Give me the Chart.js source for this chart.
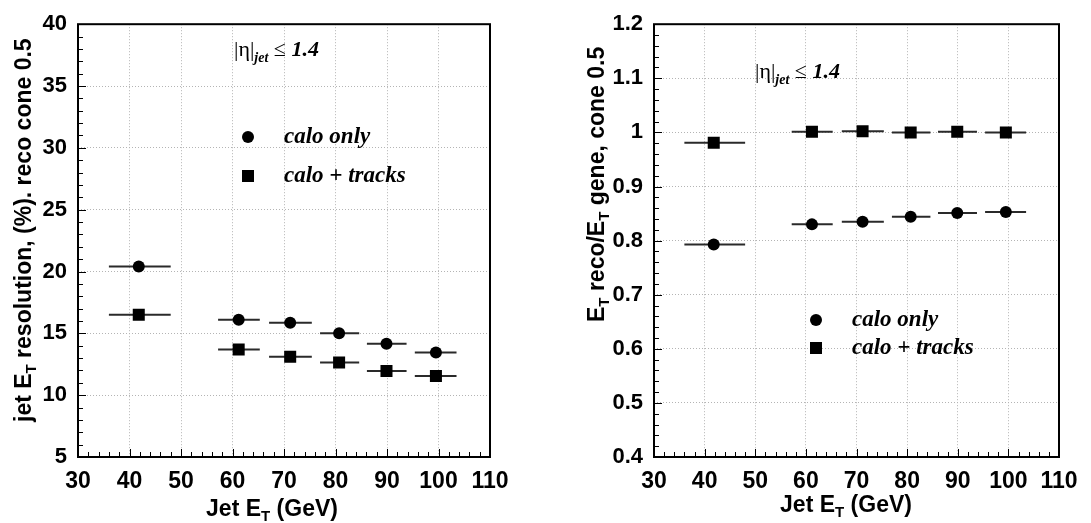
<!DOCTYPE html>
<html>
<head>
<meta charset="utf-8">
<script src="https://cdn.jsdelivr.net/npm/chart.js@4.4.1/dist/chart.umd.min.js"></script>
<style>
    html, body { margin: 0; padding: 0; background: #fff; }
    #wrap { position: relative; width: 1091px; height: 523px; }
    canvas { position: absolute; top: 0; }
</style>
</head>
<body>
<div id="wrap">
    <canvas id="chart1" width="545" height="523" style="left:0px"></canvas>
    <canvas id="chart2" width="546" height="523" style="left:545px"></canvas>
</div>
<script>
// bins in jet E_T (GeV): centre and horizontal error bar ends
const jetEt = [41.8, 61.2, 71.2, 80.7, 89.9, 99.5];
const jetEtLow = [36.0, 57.2, 67.1, 77.0, 86.1, 95.4];
const jetEtHigh = [48.0, 65.3, 75.4, 84.6, 93.8, 103.5];

// left plot: resolution (%)
const resolutionCalo = [20.4, 16.1, 15.85, 15.0, 14.15, 13.45];
const resolutionTracks = [16.5, 13.7, 13.1, 12.65, 11.95, 11.55];

// right plot: E_T reco / E_T gene
const responseCalo = [0.793, 0.83, 0.835, 0.844, 0.851, 0.853];
const responseTracks = [0.981, 1.001, 1.002, 1.0, 1.001, 1.0];

// axis ranges [min, max, major step, minor step]
const xAxisRange = [30, 110, 10, 2];
const resolutionAxisRange = [5, 40, 5, 1];
const responseAxisRange = [0.4, 1.2, 0.1, 0.02];

const legendLabels = ['calo only', 'calo + tracks'];

const SANS = '"Liberation Sans", Arial, sans-serif';
const SERIF = '"Liberation Serif", "Times New Roman", serif';

function toPoints(yValues) {
    return yValues.map((y, i) => ({ x: jetEt[i], y: y, xMin: jetEtLow[i], xMax: jetEtHigh[i] }));
}

// draws a list of [text, font, dy] one after another, returns the width
function drawRich(ctx, parts, x, y) {
    var cx = x;
    parts.forEach((p) => {
        ctx.font = p[1];
        ctx.fillText(p[0], cx, y + (p[2] || 0));
        cx += ctx.measureText(p[0]).width;
    });
    return cx - x;
}

function richWidth(ctx, parts) {
    var w = 0;
    parts.forEach((p) => {
        ctx.font = p[1];
        w += ctx.measureText(p[0]).width;
    });
    return w;
}

function drawMarker(ctx, style, x, y) {
    ctx.fillStyle = '#000';
    ctx.beginPath();
    if (style == 'circle') {
        ctx.arc(x, y, 6, 0, Math.PI * 2);
    } else {
        ctx.rect(x - 6, y - 6, 12, 12);
    }
    ctx.fill();
}

const titleFont = 'bold 23px ' + SANS;
const subFont = 'bold 15px ' + SANS;

// horizontal error bars, frame, minor ticks, legend and labels
const decorPlugin = {
    id: 'decor',
    beforeDatasetsDraw(chart) {
        const ctx = chart.ctx;
        const xs = chart.scales.x, ys = chart.scales.y;
        ctx.save();
        ctx.strokeStyle = '#2a2a2a';
        ctx.lineWidth = 2;
        chart.data.datasets.forEach((ds) => {
            ds.data.forEach((d) => {
                const y = ys.getPixelForValue(d.y);
                ctx.beginPath();
                ctx.moveTo(xs.getPixelForValue(d.xMin), y);
                ctx.lineTo(xs.getPixelForValue(d.xMax), y);
                ctx.stroke();
            });
        });
        ctx.restore();
    },
    afterDraw(chart, args, opts) {
        const ctx = chart.ctx;
        const a = chart.chartArea;
        const xs = chart.scales.x, ys = chart.scales.y;
        ctx.save();

        // minor + major ticks on bottom and left, pointing inward
        ctx.strokeStyle = '#000';
        ctx.lineWidth = 1;
        const xr = xAxisRange, yr = opts.yRange;
        for (var v = xr[0]; v <= xr[1] + 1e-9; v += xr[3]) {
            const px = Math.round(xs.getPixelForValue(v)) + 0.5;
            const major = Math.abs(v / xr[2] - Math.round(v / xr[2])) < 1e-6;
            ctx.beginPath();
            ctx.moveTo(px, a.bottom);
            ctx.lineTo(px, a.bottom - (major ? 8 : 5));
            ctx.stroke();
        }
        for (var k = 0; yr[0] + k * yr[3] <= yr[1] + 1e-9; k++) {
            const val = yr[0] + k * yr[3];
            const py = Math.round(ys.getPixelForValue(val)) + 0.5;
            const major = k % Math.round(yr[2] / yr[3]) == 0;
            ctx.beginPath();
            ctx.moveTo(a.left, py);
            ctx.lineTo(a.left + (major ? 8 : 5), py);
            ctx.stroke();
        }

        // frame
        ctx.lineWidth = 2;
        ctx.strokeRect(a.left, a.top, a.right - a.left, a.bottom - a.top);

        // legend
        ctx.textBaseline = 'middle';
        ctx.textAlign = 'left';
        const lg = opts.legend;
        ['circle', 'rect'].forEach((st, i) => {
            const ly = lg.y + i * lg.gap;
            drawMarker(ctx, st, lg.x, ly);
            ctx.fillStyle = '#000';
            ctx.font = 'italic bold 23px ' + SERIF;
            ctx.fillText(legendLabels[i], lg.x + 36, ly);
        });

        // |eta| annotation
        ctx.textBaseline = 'alphabetic';
        ctx.fillStyle = '#000';
        drawRich(ctx, [
            ['|η|', '22px ' + SERIF, 0],
            ['jet', 'italic bold 14px ' + SERIF, 6],
            [' ≤ ', '22px ' + SERIF, 0],
            ['1.4', 'italic bold 22px ' + SERIF, 0]
        ], opts.eta.x, opts.eta.y);

        // x title
        const xt = opts.xTitle;
        const xParts = [['Jet E', titleFont, 0], ['T', subFont, 5], [' (GeV)', titleFont, 0]];
        drawRich(ctx, xParts, xt.x - richWidth(ctx, xParts) / 2, xt.y);

        // y title, rotated, reading bottom to top
        const yt = opts.yTitle;
        ctx.translate(yt.x, yt.y);
        ctx.rotate(-Math.PI / 2);
        drawRich(ctx, yt.parts, 0, 0);

        ctx.restore();
    }
};

function makeConfig(caloValues, tracksValues, yRange, yWidth, rightPad, extras) {
    const data = {
        datasets: [
            {
                label: legendLabels[0],
                data: toPoints(caloValues),
                pointStyle: 'circle',
                pointRadius: 6,
                backgroundColor: '#000',
                borderColor: '#000',
                borderWidth: 0,
                showLine: false
            },
            {
                label: legendLabels[1],
                data: toPoints(tracksValues),
                pointStyle: 'rect',
                pointRadius: 8.5,
                backgroundColor: '#000',
                borderColor: '#000',
                borderWidth: 0,
                showLine: false
            }
        ]
    };

    const gridStyle = { color: '#b4b4b4', lineWidth: 1, drawTicks: false };

    return {
        type: 'scatter',
        data: data,
        options: {
            responsive: false,
            animation: false,
            events: [],
            layout: {
                autoPadding: false,
                padding: { left: 0, top: 17, right: rightPad, bottom: 0 }
            },
            scales: {
                x: {
                    type: 'linear',
                    min: xAxisRange[0],
                    max: xAxisRange[1],
                    grid: gridStyle,
                    border: { display: false, dash: [1, 2] },
                    ticks: {
                        stepSize: xAxisRange[2],
                        autoSkip: false,
                        maxRotation: 0,
                        padding: 11,
                        color: '#000',
                        font: { family: SANS, weight: 'bold', size: 23 }
                    },
                    afterFit: (scale) => { scale.height = 66; }
                },
                y: {
                    type: 'linear',
                    min: yRange[0],
                    max: yRange[1],
                    grid: gridStyle,
                    border: { display: false, dash: [1, 2] },
                    ticks: {
                        stepSize: yRange[2],
                        padding: 11,
                        color: '#000',
                        font: { family: SANS, weight: 'bold', size: 22 },
                        callback: (v) => String(Math.round(v * 100) / 100)
                    },
                    afterFit: (scale) => { scale.width = yWidth; }
                }
            },
            plugins: {
                legend: { display: false },
                tooltip: { enabled: false },
                decor: Object.assign({ yRange: yRange }, extras)
            }
        },
        plugins: [decorPlugin]
    };
}

// BEGIN FOR CHART 1
const config1 = makeConfig(resolutionCalo, resolutionTracks, resolutionAxisRange, 78, 55, {
    legend: { x: 248, y: 137, gap: 39 },
    eta: { x: 234, y: 56 },
    xTitle: { x: 272, y: 516 },
    yTitle: {
        x: 31, y: 422,
        parts: [['jet E', titleFont, 0], ['T', subFont, 5], [' resolution, (%). reco cone 0.5', titleFont, 0]]
    }
});
const chart1 = new Chart(document.getElementById('chart1'), config1);
// END FOR CHART 1

// BEGIN FOR CHART 2
const config2 = makeConfig(responseCalo, responseTracks, responseAxisRange, 109, 32, {
    legend: { x: 271, y: 320, gap: 28 },
    eta: { x: 210, y: 78 },
    xTitle: { x: 301, y: 512 },
    yTitle: {
        x: 59, y: 322,
        parts: [['E', titleFont, 0], ['T', subFont, 5], [' reco/E', titleFont, 0], ['T', subFont, 5], [' gene, cone 0.5', titleFont, 0]]
    }
});
const chart2 = new Chart(document.getElementById('chart2'), config2);
// END FOR CHART 2
</script>
</body>
</html>
